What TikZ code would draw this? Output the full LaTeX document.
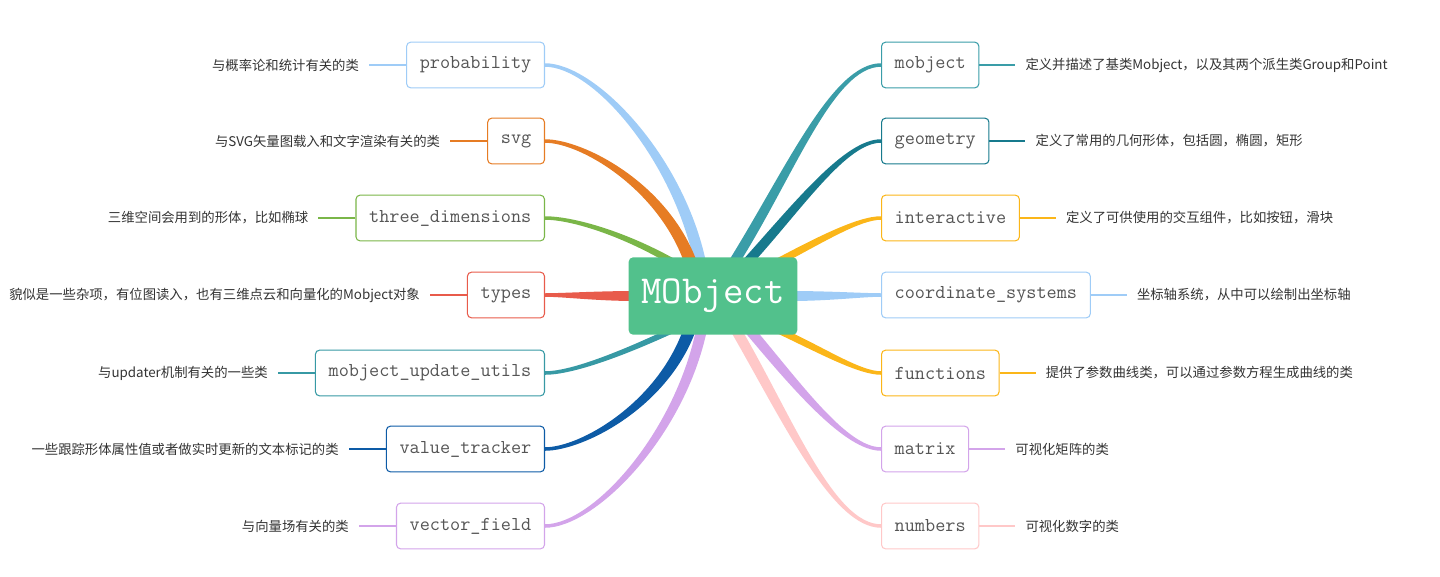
\documentclass[tikz,border=0pt]{standalone}
\usepackage{fontspec}
\newfontfamily\cjk{Noto Sans CJK SC}
\usetikzlibrary{positioning,backgrounds}

\definecolor{hubgreen}{HTML}{52C18C}
\definecolor{boxtext}{HTML}{555555}
\definecolor{notegray}{HTML}{333333}
\definecolor{blueA}{HTML}{9FCCF7}
\definecolor{orangeA}{HTML}{E67C24}
\definecolor{greenA}{HTML}{7AB648}
\definecolor{redA}{HTML}{E85B4B}
\definecolor{tealA}{HTML}{3799A4}
\definecolor{navyA}{HTML}{0D5BA6}
\definecolor{lilacA}{HTML}{D3A4EA}
\definecolor{tealB}{HTML}{3A9DA8}
\definecolor{tealC}{HTML}{177A8D}
\definecolor{amberA}{HTML}{FBB619}
\definecolor{pinkA}{HTML}{FFC8C8}

% tapered branch: colour, start a, start b, out angle, end anchor, in angle
\newcommand{\branch}[6]{%
  \fill[#1] (#2) to[out=#4,in=#6,out looseness=1.1,in looseness=0.5] ([yshift=-1pt]#5)
    -- ([yshift=1pt]#5) to[out=#6,in=#4,out looseness=0.5,in looseness=1.1] (#3) -- cycle;}

\begin{document}
\begin{tikzpicture}[x=0.02cm,y=-0.02cm]
\tikzset{
  hubnode/.style={rectangle,rounded corners=2.5pt,fill=hubgreen,text=white,font=\ttfamily\fontsize{22.6}{24}\selectfont,minimum width=96pt,minimum height=44pt,inner sep=0pt},
  topicbox/.style={rectangle,rounded corners=2.3pt,draw=#1,fill=white,line width=0.6pt,text=boxtext,font=\ttfamily\fontsize{11.2}{13}\selectfont,minimum height=26pt,inner xsep=7.5pt,inner ysep=0pt},
  notetext/.style={text=notegray,font=\cjk\fontsize{7.6}{9}\selectfont,inner xsep=5.6pt,inner ysep=0pt},
  notelink/.style={draw=#1,line width=1.6pt}
}
\useasboundingbox (0,0) rectangle (1440,576);

\node[hubnode] (n_hub) at (713,296) {MObject};

% left side
\node[topicbox=blueA,anchor=east] (n_probability) at (545,65) {probability};
\node[topicbox=orangeA,anchor=east] (n_svg) at (545,141) {svg};
\node[topicbox=greenA,anchor=east] (n_three) at (545,218) {three\_dimensions};
\node[topicbox=redA,anchor=east] (n_types) at (545,295) {types};
\node[topicbox=tealA,anchor=east] (n_update) at (545,373) {mobject\_update\_utils};
\node[topicbox=navyA,anchor=east] (n_tracker) at (545,449) {value\_tracker};
\node[topicbox=lilacA,anchor=east] (n_field) at (545,526) {vector\_field};

\node[notetext,left=0.74cm of n_probability] (t_probability) {与概率论和统计有关的类};
\node[notetext,left=0.74cm of n_svg] (t_svg) {与SVG矢量图载入和文字渲染有关的类};
\node[notetext,left=0.74cm of n_three] (t_three) {三维空间会用到的形体，比如椭球};
\node[notetext,left=0.74cm of n_types] (t_types) {貌似是一些杂项，有位图读入，也有三维点云和向量化的Mobject对象};
\node[notetext,left=0.74cm of n_update] (t_update) {与updater机制有关的一些类};
\node[notetext,left=0.74cm of n_tracker] (t_tracker) {一些跟踪形体属性值或者做实时更新的文本标记的类};
\node[notetext,left=0.74cm of n_field] (t_field) {与向量场有关的类};

% right side
\node[topicbox=tealB,anchor=west] (n_mobject) at (881,65) {mobject};
\node[topicbox=tealC,anchor=west] (n_geometry) at (881,141) {geometry};
\node[topicbox=amberA,anchor=west] (n_interactive) at (881,218) {interactive};
\node[topicbox=blueA,anchor=west] (n_coords) at (881,295) {coordinate\_systems};
\node[topicbox=amberA,anchor=west] (n_functions) at (881,373) {functions};
\node[topicbox=lilacA,anchor=west] (n_matrix) at (881,449) {matrix};
\node[topicbox=pinkA,anchor=west] (n_numbers) at (881,526) {numbers};

\node[notetext,right=0.72cm of n_mobject] (t_mobject) {定义并描述了基类Mobject，以及其两个派生类Group和Point};
\node[notetext,right=0.72cm of n_geometry] (t_geometry) {定义了常用的几何形体，包括圆，椭圆，矩形};
\node[notetext,right=0.72cm of n_interactive] (t_interactive) {定义了可供使用的交互组件，比如按钮，滑块};
\node[notetext,right=0.72cm of n_coords] (t_coords) {坐标轴系统，从中可以绘制出坐标轴};
\node[notetext,right=0.72cm of n_functions] (t_functions) {提供了参数曲线类，可以通过参数方程生成曲线的类};
\node[notetext,right=0.72cm of n_matrix] (t_matrix) {可视化矩阵的类};
\node[notetext,right=0.72cm of n_numbers] (t_numbers) {可视化数字的类};

\begin{scope}[on background layer]
\branch{blueA}{694,262}{706,262}{102}{n_probability.east}{0}
\branch{orangeA}{684,262}{697,262}{110}{n_svg.east}{0}
\branch{greenA}{666,262}{680,262}{150}{n_three.east}{0}
\branch{redA}{636,301}{636,291}{180}{n_types.east}{0}
\branch{tealA}{680,330}{666,330}{205}{n_update.east}{0}
\branch{navyA}{696,330}{683,330}{250}{n_tracker.east}{0}
\branch{lilacA}{707,330}{696,330}{258}{n_field.east}{0}
\branch{tealB}{740,262}{728,262}{58}{n_mobject.west}{180}
\branch{tealC}{754,262}{741,262}{48}{n_geometry.west}{180}
\branch{amberA}{786,262}{770,262}{28}{n_interactive.west}{180}
\branch{blueA}{790,301}{790,291}{0}{n_coords.west}{180}
\branch{amberA}{770,330}{786,330}{335}{n_functions.west}{180}
\branch{lilacA}{743,330}{756,330}{310}{n_matrix.west}{180}
\branch{pinkA}{730,330}{742,330}{300}{n_numbers.west}{180}

\draw[notelink=blueA] (n_probability.west) -- (t_probability.east);
\draw[notelink=orangeA] (n_svg.west) -- (t_svg.east);
\draw[notelink=greenA] (n_three.west) -- (t_three.east);
\draw[notelink=redA] (n_types.west) -- (t_types.east);
\draw[notelink=tealA] (n_update.west) -- (t_update.east);
\draw[notelink=navyA] (n_tracker.west) -- (t_tracker.east);
\draw[notelink=lilacA] (n_field.west) -- (t_field.east);
\draw[notelink=tealB] (n_mobject.east) -- (t_mobject.west);
\draw[notelink=tealC] (n_geometry.east) -- (t_geometry.west);
\draw[notelink=amberA] (n_interactive.east) -- (t_interactive.west);
\draw[notelink=blueA] (n_coords.east) -- (t_coords.west);
\draw[notelink=amberA] (n_functions.east) -- (t_functions.west);
\draw[notelink=lilacA] (n_matrix.east) -- (t_matrix.west);
\draw[notelink=pinkA] (n_numbers.east) -- (t_numbers.west);
\end{scope}
\end{tikzpicture}
\end{document}
